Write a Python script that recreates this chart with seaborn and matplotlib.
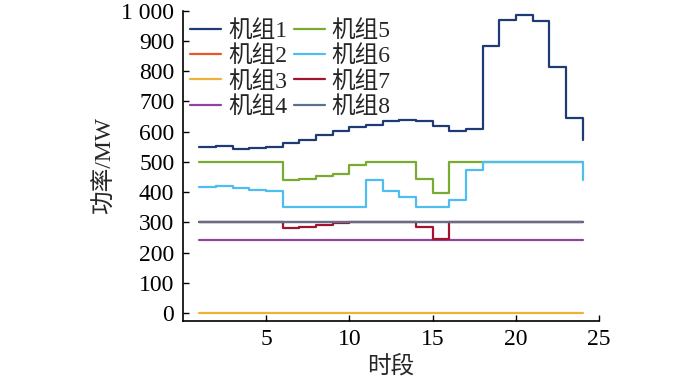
import numpy as np
import pandas as pd
import seaborn as sns
import matplotlib
matplotlib.use("Agg")
import matplotlib.pyplot as plt

# 时段 1..24
periods = list(range(1, 25))

unit1 = [548, 552, 543, 546, 550, 562, 571, 587, 601, 615, 623, 636,
         638, 634, 617, 601, 607, 884, 969, 985, 964, 815, 645, 571]
unit2 = [300] * 24
unit3 = [0] * 24
unit4 = [240] * 24
unit5 = [500, 500, 500, 500, 500, 441, 444, 452, 460, 491, 500, 500,
         500, 443, 397, 500, 500, 500, 500, 500, 500, 500, 500, 500]
unit6 = [416, 419, 413, 408, 403, 350, 350, 350, 350, 350, 440, 402,
         383, 350, 350, 373, 473, 500, 500, 500, 500, 500, 500, 440]
unit7 = [300, 300, 300, 300, 300, 282, 285, 291, 296, 300, 300, 300,
         300, 285, 245, 300, 300, 300, 300, 300, 300, 300, 300, 300]
unit8 = [300] * 24

names = ["机组1", "机组2", "机组3", "机组4", "机组5", "机组6", "机组7", "机组8"]
series = [unit1, unit2, unit3, unit4, unit5, unit6, unit7, unit8]
colors = ["#1f3b73", "#e8582a", "#eeb23a", "#8e44a0",
          "#77ac30", "#4dbeee", "#a2142f", "#5d7090"]

rows = []
for name, vals in zip(names, series):
    for t, v in zip(periods, vals):
        rows.append({"时段": t, "功率": v, "机组": name})
df = pd.DataFrame(rows)

sns.set_style("ticks")
plt.rcParams["font.family"] = ["Liberation Serif", "Noto Sans CJK SC"]
plt.rcParams["font.size"] = 17

fig = plt.figure(figsize=(7, 3.78), dpi=100)
ax = fig.add_axes([0.261, 0.152, 0.595, 0.82])

sns.lineplot(data=df, x="时段", y="功率", hue="机组", hue_order=names,
             palette=dict(zip(names, colors)), drawstyle="steps-post",
             linewidth=1.6, ax=ax, legend=True)

ax.set_xlim(0, 25)
ax.set_ylim(-25, 1000)
ax.set_xticks([5, 10, 15, 20, 25])
yt = list(range(0, 1001, 100))
ax.set_yticks(yt)
ax.set_yticklabels([str(v) if v < 1000 else "1 000" for v in yt])
ax.tick_params(direction="in", length=4, width=1, labelsize=17,
               colors="black", pad=6)
ax.set_xlabel("时段", fontsize=17, labelpad=4)
ax.set_ylabel("功率/MW", fontsize=17, labelpad=4)
for s in ["top", "right"]:
    ax.spines[s].set_visible(False)
for s in ["left", "bottom"]:
    ax.spines[s].set_linewidth(1.2)
    ax.spines[s].set_color("black")

ax.legend(ncol=2, loc="upper left", frameon=False, fontsize=17,
          handlelength=1.3, handletextpad=0.3, columnspacing=0.3,
          labelspacing=0.15, borderaxespad=0.0, bbox_to_anchor=(-0.005, 1.0))

fig.savefig("out.png", dpi=100)
